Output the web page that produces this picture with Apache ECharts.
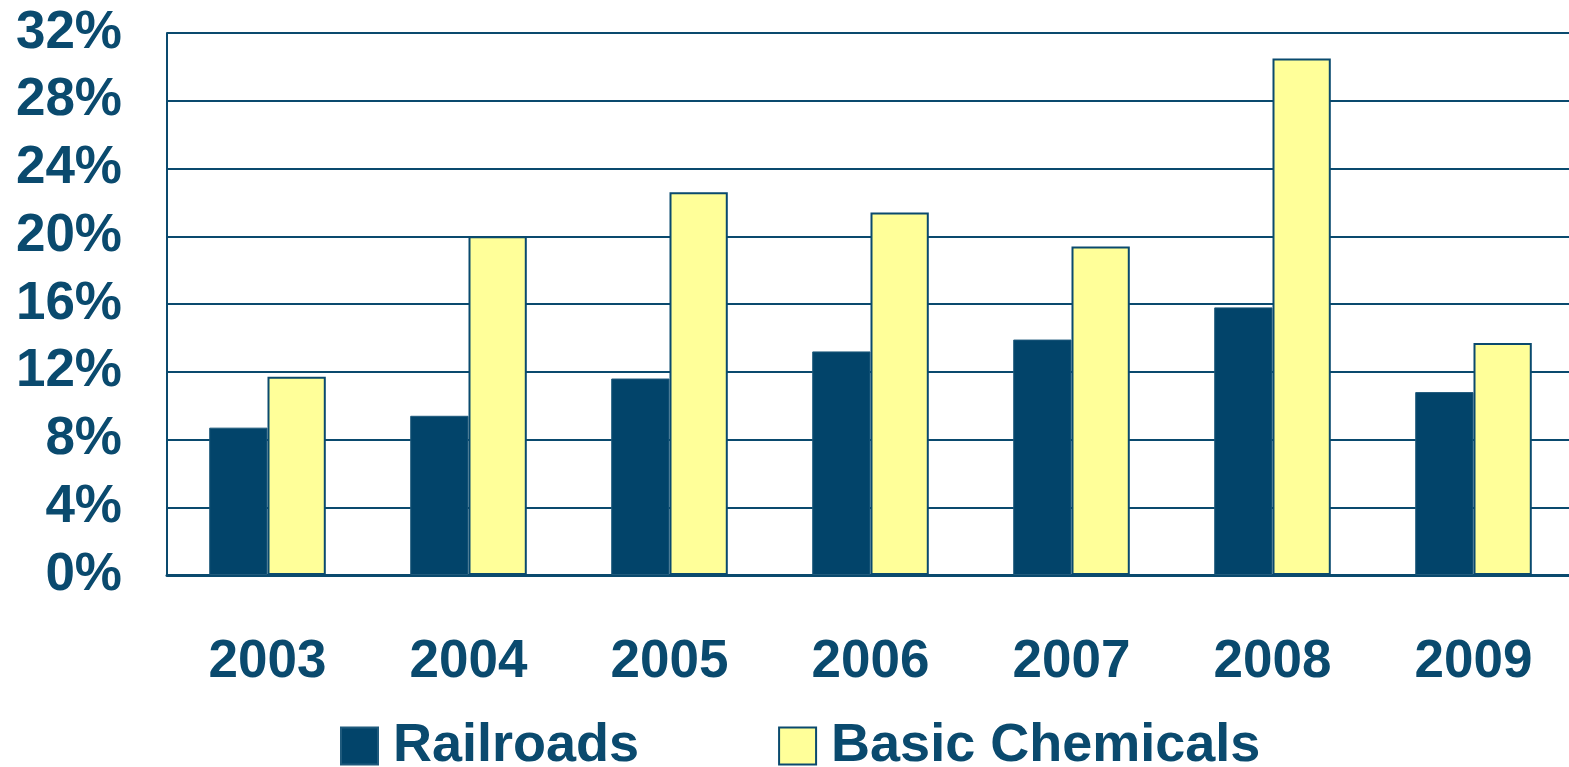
<!DOCTYPE html>
<html>
<head>
<meta charset="utf-8">
<script src="https://cdn.jsdelivr.net/npm/echarts@6/dist/echarts.min.js"></script>
<style>
html,body{margin:0;padding:0;background:#fff;}
#chart{width:1569px;height:767px;}
</style>
</head>
<body>
<div id="chart"></div>
<script>
const categories = ['2003','2004','2005','2006','2007','2008','2009'];
const railroads = [8.7, 9.4, 11.6, 13.2, 13.9, 15.8, 10.8];
const basicChemicals = [11.7, 20.0, 22.6, 21.4, 19.4, 30.5, 13.7];
const seriesNames = ['Railroads', 'Basic Chemicals'];

const navy = '#0A4A6E';
const font = '"Liberation Sans", Arial, sans-serif';

const chart = echarts.init(document.getElementById('chart'));
chart.setOption({
  animation: false,
  backgroundColor: '#ffffff',
  grid: { left: 167, width: 1407, top: 33, height: 542, containLabel: false, outerBoundsMode: 'none' },
  legend: {
    data: seriesNames,
    left: 335,
    top: 714,
    itemWidth: 37,
    itemHeight: 37,
    itemGap: 139,
    icon: 'rect',
    textStyle: { color: navy, fontFamily: font, fontWeight: 'bold', fontSize: 54, padding: [0, 0, 0, 10] }
  },
  xAxis: {
    type: 'category',
    data: categories,
    axisLine: { lineStyle: { color: navy, width: 3 } },
    axisTick: { show: false },
    axisLabel: { color: navy, fontFamily: font, fontWeight: 'bold', fontSize: 53, margin: 61 }
  },
  yAxis: {
    type: 'value',
    min: 0,
    max: 32,
    interval: 4,
    axisLine: { show: true, lineStyle: { color: navy, width: 2 } },
    axisTick: { show: false },
    splitLine: { lineStyle: { color: navy, width: 2 } },
    axisLabel: {
      color: navy, fontFamily: font, fontWeight: 'bold', fontSize: 53, margin: 45,
      formatter: v => v + '%'
    }
  },
  series: [
    {
      name: seriesNames[0],
      type: 'bar',
      data: railroads,
      barGap: '0%',
      barCategoryGap: '42%',
      itemStyle: { color: '#02446A', borderColor: '#1F5A7C', borderWidth: 1 }
    },
    {
      name: seriesNames[1],
      type: 'bar',
      data: basicChemicals,
      itemStyle: { color: '#FFFF99', borderColor: navy, borderWidth: 2 }
    }
  ]
});
</script>
</body>
</html>
